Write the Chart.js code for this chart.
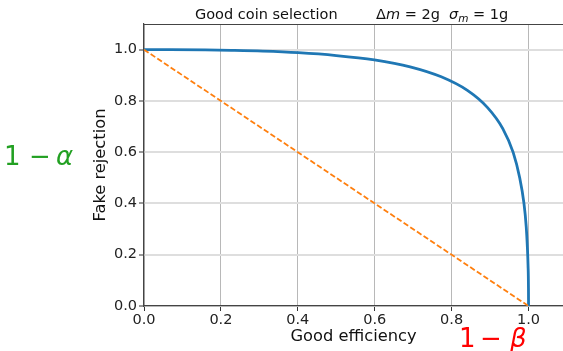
<!DOCTYPE html>
<html>
<head>
<meta charset="utf-8">
<script src="https://cdn.jsdelivr.net/npm/chart.js@4/dist/chart.umd.min.js"></script>
<style>
  html, body { margin: 0; padding: 0; background: #fff; overflow: hidden; }
  #wrap { width: 572px; height: 351px; }
</style>
</head>
<body>
<div id="wrap"><canvas id="c" width="572" height="351"></canvas></div>
<script>
// Data
const goodEfficiency = [0, 0.023, 0.067, 0.159, 0.227, 0.309, 0.401, 0.500, 0.599, 0.692, 0.773, 0.841, 0.894, 0.933, 0.960, 0.977, 0.988, 0.994, 0.997, 0.9987, 0.9998, 1.0];
const fakeRejection  = [1.0, 1.0, 0.9998, 0.9987, 0.997, 0.994, 0.988, 0.977, 0.960, 0.933, 0.894, 0.841, 0.773, 0.692, 0.599, 0.500, 0.401, 0.309, 0.227, 0.159, 0.067, 0.0];
const diagonalX = [0, 1];
const diagonalY = [1, 0];
const tickValues = [0, 0.2, 0.4, 0.6, 0.8, 1.0];
const titleLeft = "Good coin selection";
const xLabel = "Good efficiency";
const yLabel = "Fake rejection";

const FONT = "'DejaVu Sans', sans-serif";

const rocPoints = goodEfficiency.map((x, i) => ({ x: x, y: fakeRejection[i] }));
const diagPoints = diagonalX.map((x, i) => ({ x: x, y: diagonalY[i] }));

const keepTicks = (scale) => {
  scale.ticks = tickValues.map(v => ({ value: v }));
};

const textPlugin = {
  id: 'texts',
  afterDraw(chart) {
    const ctx = chart.ctx;
    const a = chart.chartArea;
    ctx.save();
    // top spine
    ctx.strokeStyle = '#444';
    ctx.lineWidth = 1.2;
    ctx.beginPath();
    ctx.moveTo(a.left, a.top + 0.5);
    ctx.lineTo(a.right, a.top + 0.5);
    ctx.stroke();

    ctx.fillStyle = '#111';
    ctx.textBaseline = 'alphabetic';
    ctx.textAlign = 'left';
    // title
    ctx.font = "14.5px " + FONT;
    ctx.fillText(titleLeft, 195, 19);
    let x = 376;
    const put = (t, font, dy) => {
      ctx.font = font;
      ctx.fillText(t, x, 19 + (dy || 0));
      x += ctx.measureText(t).width;
    };
    put("\u0394", "14.5px " + FONT);
    put("m", "italic 14.5px " + FONT);
    put(" = 2g  ", "14.5px " + FONT);
    put("\u03c3", "italic 14.5px " + FONT);
    put("m", "italic 10.5px " + FONT, 3);
    put(" = 1g", "14.5px " + FONT);

    // axis labels
    ctx.font = "16.3px " + FONT;
    ctx.textAlign = 'center';
    ctx.fillText(xLabel, 353.5, 341);
    ctx.save();
    ctx.translate(105, 165);
    ctx.rotate(-Math.PI / 2);
    ctx.fillText(yLabel, 0, 0);
    ctx.restore();

    // 1 - beta (red)
    ctx.textAlign = 'left';
    ctx.fillStyle = '#ff0000';
    ctx.font = "26px " + FONT;
    ctx.fillText("1", 459, 347);
    ctx.fillText("\u2212", 480, 347);
    ctx.font = "italic 26px " + FONT;
    ctx.fillText("\u03b2", 510, 347);

    // 1 - alpha (green)
    ctx.fillStyle = '#22a022';
    ctx.font = "26px " + FONT;
    ctx.fillText("1", 4, 165);
    ctx.fillText("\u2212", 29, 165);
    ctx.font = "italic 26px " + FONT;
    ctx.fillText("\u03b1", 56, 165);
    ctx.restore();
  }
};

new Chart(document.getElementById('c'), {
  type: 'scatter',
  data: {
    datasets: [
      {
        label: 'diagonal',
        data: diagPoints,
        showLine: true,
        borderColor: '#ff7f0e',
        borderWidth: 1.8,
        borderDash: [5.5, 2.5],
        pointRadius: 0,
        order: 0
      },
      {
        label: 'ROC',
        data: rocPoints,
        showLine: true,
        borderColor: '#1f77b4',
        borderWidth: 2.8,
        pointRadius: 0,
        cubicInterpolationMode: 'monotone',
        order: 1
      }
    ]
  },
  options: {
    responsive: false,
    animation: false,
    devicePixelRatio: 1,
    layout: { padding: { left: 0, top: 24, right: 5, bottom: 0 } },
    plugins: { legend: { display: false }, tooltip: { enabled: false }, title: { display: false } },
    scales: {
      x: {
        type: 'linear',
        min: 0,
        max: 1.1,
        afterBuildTicks: keepTicks,
        afterFit: (s) => { s.height = 45; },
        grid: { color: '#b8b8b8', lineWidth: 1, drawTicks: true, tickLength: 5, tickColor: '#333', tickWidth: 1 },
        border: { color: '#444', width: 1.2 },
        ticks: {
          padding: 1,
          color: '#222',
          font: { family: FONT, size: 14.5 },
          callback: (v) => Number(v).toFixed(1),
          maxRotation: 0
        }
      },
      y: {
        type: 'linear',
        min: 0,
        max: 1.1,
        afterBuildTicks: keepTicks,
        afterFit: (s) => { s.width = 144; },
        grid: { color: '#dedede', lineWidth: 2, drawTicks: true, tickLength: 5, tickColor: '#333', tickWidth: 1 },
        border: { color: '#444', width: 1.2 },
        ticks: {
          padding: 2,
          color: '#222',
          font: { family: FONT, size: 14.5 },
          callback: (v) => Number(v).toFixed(1)
        }
      }
    }
  },
  plugins: [textPlugin]
});
</script>
</body>
</html>
